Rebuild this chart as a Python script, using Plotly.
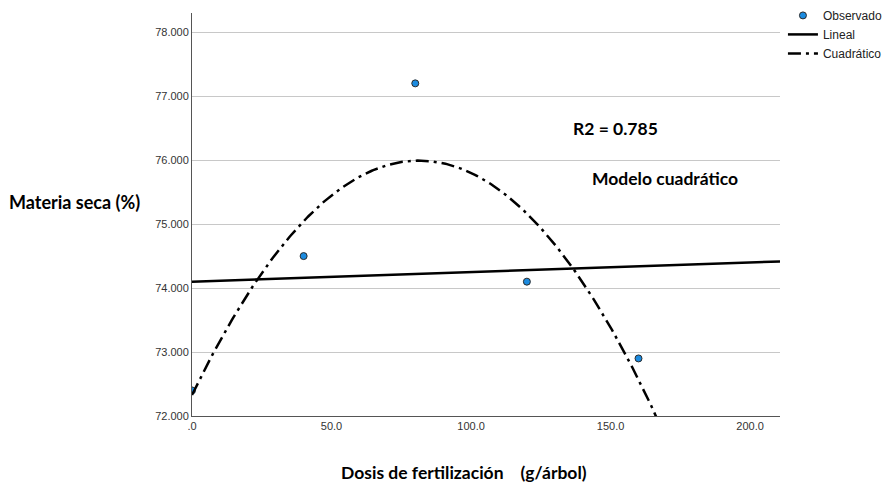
import numpy as np
import plotly.graph_objects as go

# Observed dry matter by fertilizer dose
dosis = [0, 40, 80, 120, 160]
materia_seca = [72.4, 74.5, 77.2, 74.1, 72.9]

x_tickvals = [0, 50, 100, 150, 200]
x_ticktext = [".0", "50.0", "100.0", "150.0", "200.0"]
y_tickvals = [72, 73, 74, 75, 76, 77, 78]
y_ticktext = ["72.000", "73.000", "74.000", "75.000", "76.000", "77.000", "78.000"]

# Linear and quadratic least-squares fits
lin = np.polyfit(dosis, materia_seca, 1)
quad = np.polyfit(dosis, materia_seca, 2)
xs = np.linspace(0, 210.7, 400)

fig = go.Figure()
fig.add_trace(go.Scatter(
    x=dosis, y=materia_seca, mode="markers", name="Observado",
    marker=dict(size=7, color="#1b8be0", line=dict(color="#2b2b2b", width=1)),
    cliponaxis=True,
))
fig.add_trace(go.Scatter(
    x=xs, y=np.polyval(lin, xs), mode="lines", name="Lineal",
    line=dict(color="black", width=2.5),
))
fig.add_trace(go.Scatter(
    x=xs, y=np.polyval(quad, xs), mode="lines", name="Cuadrático",
    line=dict(color="black", width=2.5, dash="13px,5px,3px,5px"),
))

title_font = dict(family="Lato", size=17.5, color="black")
fig.add_annotation(x=151.6, y=76.5, xref="x", yref="y", text="<b>R2 = 0.785</b>",
                   showarrow=False, font=title_font)
fig.add_annotation(x=169.5, y=75.72, xref="x", yref="y", text="<b>Modelo cuadrático</b>",
                   showarrow=False, font=title_font)
fig.add_annotation(x=-0.315, y=0.531, xref="paper", yref="paper", xanchor="left",
                   yanchor="middle", text="<b>Materia seca (%)</b>", showarrow=False,
                   font=dict(family="Lato", size=18, color="black"))
fig.add_annotation(x=0.462, y=-0.139, xref="paper", yref="paper", yanchor="middle",
                   text="<b>Dosis de fertilización    (g/árbol)</b>", showarrow=False,
                   font=title_font)

fig.update_layout(
    width=885, height=483,
    margin=dict(l=192, r=105, t=13, b=67, autoexpand=False),
    paper_bgcolor="white", plot_bgcolor="white",
    font=dict(family="Liberation Sans", size=11, color="#333333"),
    showlegend=True,
    legend=dict(x=1.005, y=1.03, xanchor="left", yanchor="top",
                font=dict(family="Liberation Sans", size=12, color="#222222"),
                tracegroupgap=0, itemwidth=30, bgcolor="rgba(0,0,0,0)"),
    xaxis=dict(range=[0, 210.7], tickvals=x_tickvals, ticktext=x_ticktext,
               showgrid=False, zeroline=False, showline=True, linecolor="#555555",
               linewidth=1, ticks="", tickfont=dict(size=11, color="#333333")),
    yaxis=dict(range=[72, 78.3], tickvals=y_tickvals, ticktext=y_ticktext,
               showgrid=True, gridcolor="#c8c8c8", gridwidth=1, zeroline=False,
               showline=True, linecolor="#555555", linewidth=1, ticks="",
               tickfont=dict(size=11, color="#333333")),
)

fig.write_html("out.html")
